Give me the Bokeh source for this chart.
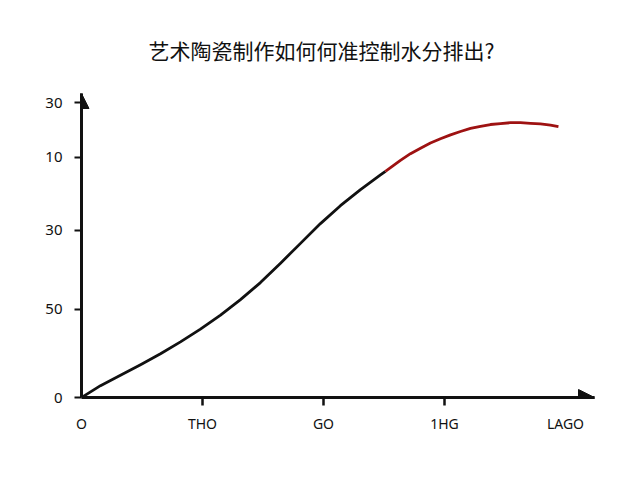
from bokeh.plotting import figure
from bokeh.models import Range1d, FixedTicker, Arrow, NormalHead
from bokeh.embed import file_html
from bokeh.resources import INLINE

# curve (arbitrary units)
x_black = [0.0, 0.157, 0.322, 0.488, 0.653, 0.818, 0.983, 1.149, 1.314, 1.479, 1.645,
           1.810, 1.975, 2.140, 2.306, 2.471, 2.512]
y_black = [0.0, 3.9, 7.3, 10.8, 14.4, 18.3, 22.5, 27.1, 32.2, 37.8, 44.2,
           50.7, 57.2, 63.1, 68.4, 73.2, 74.4]
x_red = [2.512, 2.554, 2.636, 2.719, 2.802, 2.884, 2.967, 3.050, 3.132, 3.215, 3.298,
         3.380, 3.463, 3.545, 3.628, 3.711, 3.793, 3.876, 3.942]
y_red = [74.4, 75.6, 78.0, 80.2, 82.0, 83.7, 85.1, 86.4, 87.5, 88.5, 89.2,
         89.8, 90.1, 90.4, 90.4, 90.2, 90.0, 89.6, 89.1]

x_ticks = [0, 1, 2, 3, 4]
x_tick_labels = ["O", "THO", "GO", "1HG", "LAGO"]
x_tick_marks = [1, 2, 3]
y_ticks = [0, 29, 55, 79, 97]
y_tick_labels = ["0", "50", "30", "10", "30"]

X_END = 4.24
Y_END = 100

p = figure(width=624, height=464, output_backend="svg", toolbar_location=None,
           x_range=Range1d(0, X_END), y_range=Range1d(0, Y_END),
           min_border_left=81, min_border_right=30, min_border_bottom=67, min_border_top=93,
           title="艺术陶瓷制作如何何准控制水分排出?")
p.title.align = "left"
p.title.offset = 67
p.title.text_font = "Noto Sans CJK SC"
p.title.text_font_size = "21px"
p.title.text_font_style = "normal"
p.title.text_color = "#111111"
p.title.standoff = 58
p.outline_line_color = None
p.grid.visible = False

p.line(x_black, y_black, line_color="#111111", line_width=2.8, line_join="round")
p.line(x_red, y_red, line_color="#9e1212", line_width=2.8, line_join="round")

for ax in (p.xaxis[0], p.yaxis[0]):
    ax.axis_line_width = 3
    ax.axis_line_color = "#111111"
    ax.major_tick_line_width = 2
    ax.major_tick_line_color = "#111111"
    ax.major_tick_in = 0
    ax.major_tick_out = 7
    ax.minor_tick_line_color = None
    ax.major_label_text_font = "Noto Sans"
    ax.major_label_text_font_size = "15px"
    ax.major_label_text_color = "#111111"

# x: labels on all ticks, tick marks only at the three inner ticks
p.xaxis.ticker = FixedTicker(ticks=x_ticks, minor_ticks=x_tick_marks)
p.xaxis.major_label_overrides = dict(zip(x_ticks, x_tick_labels))
p.xaxis.major_tick_line_color = None
p.xaxis.minor_tick_line_color = "#111111"
p.xaxis.minor_tick_line_width = 2.5
p.xaxis.minor_tick_in = 0
p.xaxis.minor_tick_out = 8
p.xaxis.major_label_standoff = 8
p.xaxis.major_label_text_font_size = "14px"

p.yaxis.ticker = FixedTicker(ticks=y_ticks)
p.yaxis.major_label_overrides = dict(zip(y_ticks, y_tick_labels))
p.yaxis.major_label_standoff = 12

# arrow heads at the ends of the axes
p.add_layout(Arrow(end=NormalHead(size=16, fill_color="#111111", line_color="#111111"),
                   x_start=X_END - 0.2, y_start=0, x_end=X_END, y_end=0,
                   line_width=3, line_color="#111111"))
p.add_layout(Arrow(end=NormalHead(size=15, fill_color="#111111", line_color="#111111"),
                   x_start=0, y_start=Y_END - 5, x_end=0, y_end=Y_END,
                   line_width=3, line_color="#111111"))

open("out.html", "w").write(file_html(p, INLINE))
